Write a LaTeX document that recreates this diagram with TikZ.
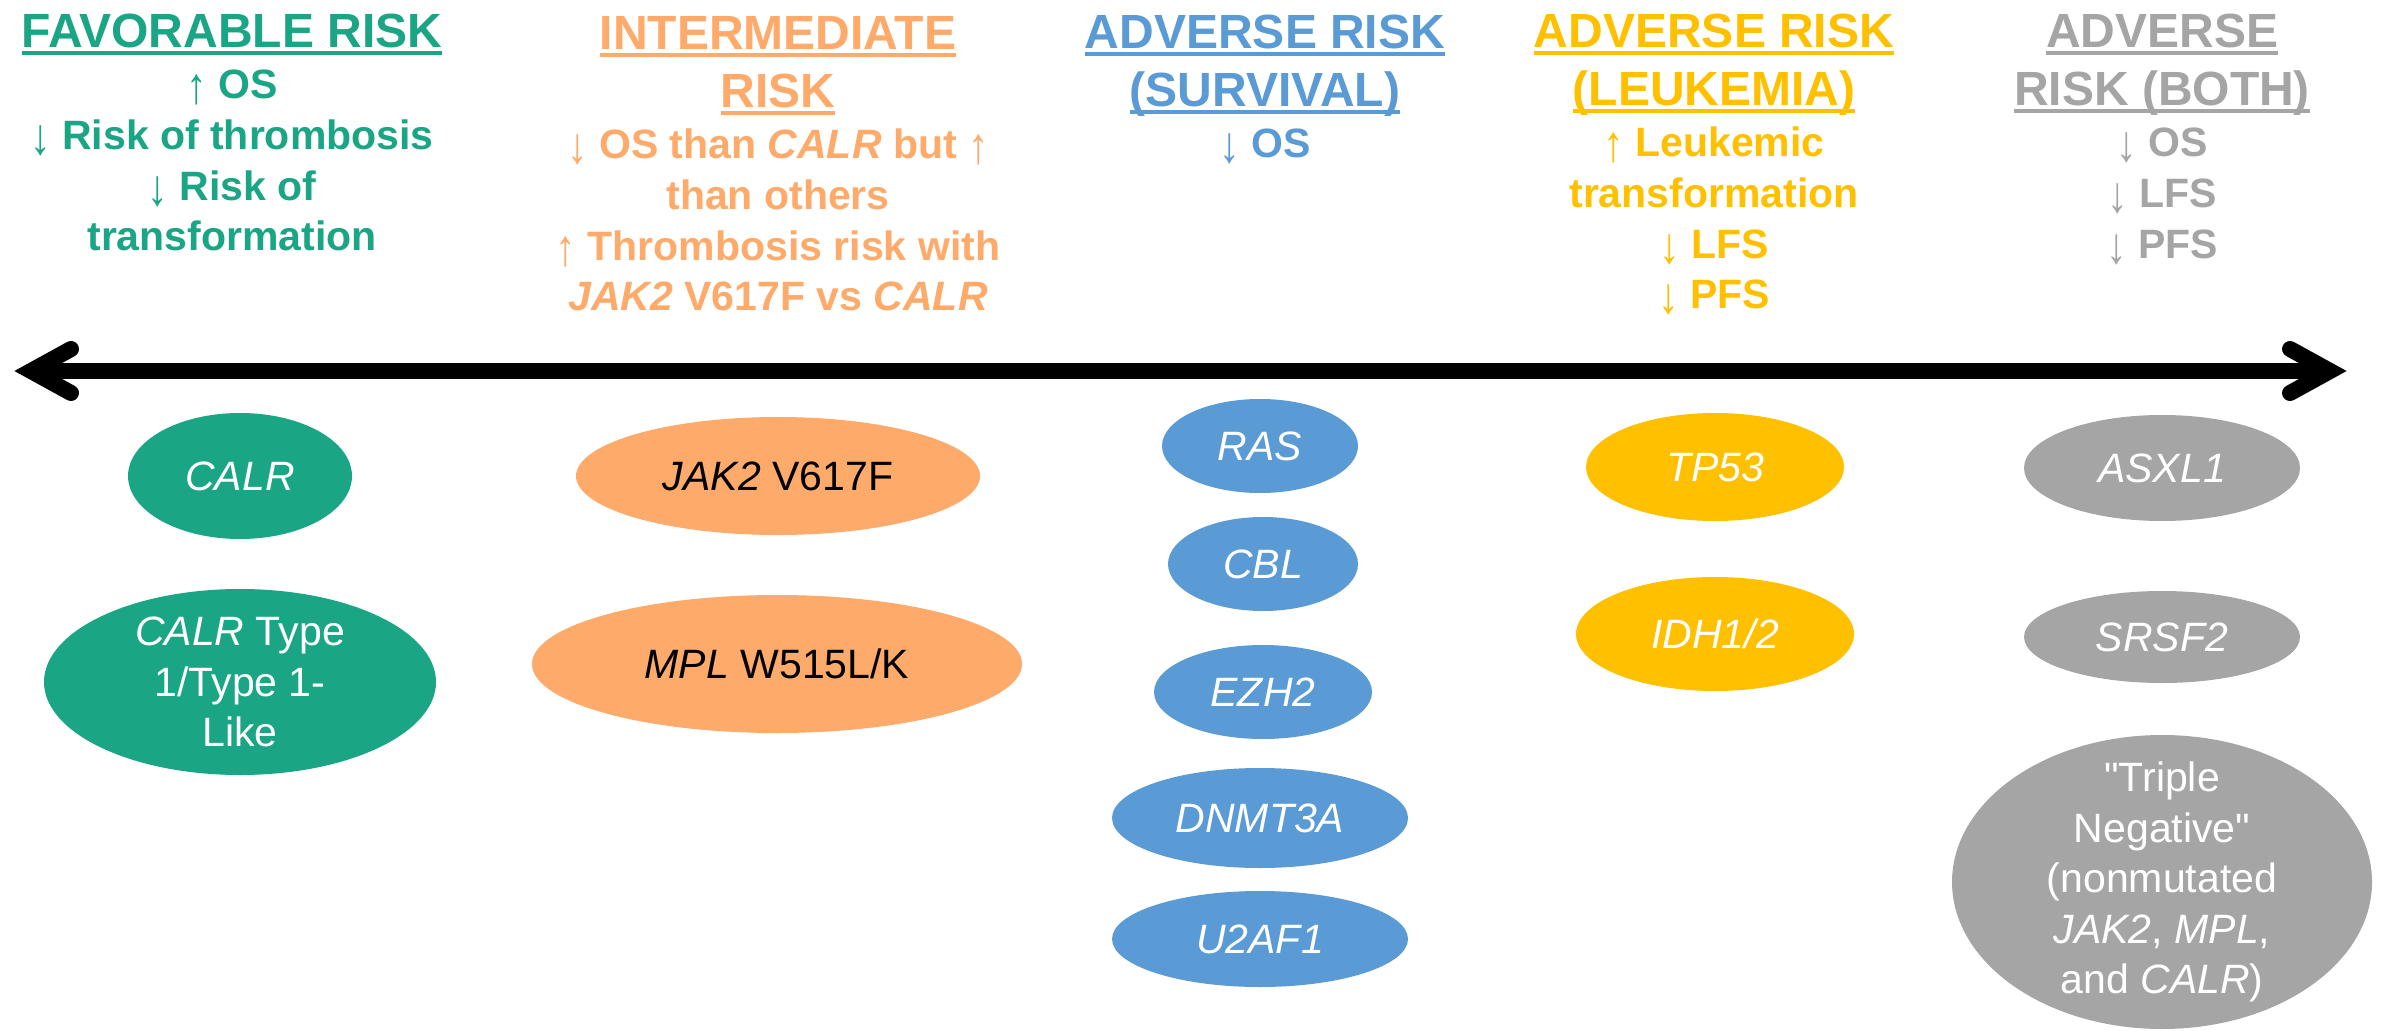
\documentclass[tikz,border=0pt]{standalone}
\usepackage{graphicx}
\usepackage{fontspec}
\setmainfont{Liberation Sans}[Ligatures=TeXOff]
\usetikzlibrary{shapes.geometric}
\definecolor{cgreen}{RGB}{26,165,132}
\definecolor{corange}{RGB}{253,170,106}
\definecolor{cblue}{RGB}{91,155,213}
\definecolor{cyellow}{RGB}{255,192,0}
\definecolor{cgray}{RGB}{165,165,165}
\newcommand\hul[1]{\setbox0\hbox{#1}\rlap{\rule[-3.6pt]{\wd0}{2pt}}\box0}
\newcommand\tlines[1]{\begin{tabular}[t]{@{}c@{}}#1\end{tabular}}
\newcommand\uarr{{\mdseries\raisebox{-0.12em}{\scalebox{1}[1.25]{↑}}}}
\newcommand\darr{{\mdseries\raisebox{-0.12em}{\scalebox{1}[1.25]{↓}}}}
\tikzset{
  hdr/.style={font=\fontsize{24pt}{29pt}\selectfont\bfseries, inner sep=0pt, anchor=base},
  bdy/.style={font=\fontsize{20.5pt}{25.3pt}\selectfont\bfseries, inner sep=0pt, anchor=base},
  gene/.style={ellipse, draw=none, inner sep=-12pt, align=center, text=white,
    font=\fontsize{20.5pt}{25.3pt}\selectfont},
  axisline/.style={line width=8pt},
  axishead/.style={line width=8pt, line cap=round, line join=miter, miter limit=10}
}
\begin{document}
\begin{tikzpicture}[x=0.5pt,y=-0.5pt]
\fill[white] (0,0) rectangle (2385,1031);
\useasboundingbox (0,0) rectangle (2385,1031);

% headers
\node[hdr, text=cgreen] (h1) at (232,48) {\tlines{\hul{FAVORABLE RISK}}};
\node[bdy, text=cgreen] (b1) at (232,99) {\tlines{\uarr{} OS\\ \darr{} Risk of thrombosis\\ \darr{} Risk of\\ transformation}};

\node[hdr, text=corange] (h2) at (778,50) {\tlines{\hul{INTERMEDIATE}\\ \hul{RISK}}};
\node[bdy, text=corange] (b2) at (778,159) {\tlines{\darr{} OS than \textit{CALR} but \uarr\\ than others\\ \uarr{} Thrombosis risk with\\ \textit{JAK2} V617F vs \textit{CALR}}};

\node[hdr, text=cblue] (h3) at (1265,49) {\tlines{\hul{ADVERSE RISK}\\ \hul{(SURVIVAL)}}};
\node[bdy, text=cblue] (b3) at (1265,158) {\tlines{\darr{} OS}};

\node[hdr, text=cyellow] (h4) at (1714,48) {\tlines{\hul{ADVERSE RISK}\\ \hul{(LEUKEMIA)}}};
\node[bdy, text=cyellow] (b4) at (1714,157) {\tlines{\uarr{} Leukemic\\ transformation\\ \darr{} LFS\\ \darr{} PFS}};

\node[hdr, text=cgray] (h5) at (2162,48) {\tlines{\hul{ADVERSE}\\ \hul{RISK (BOTH)}}};
\node[bdy, text=cgray] (b5) at (2162,157) {\tlines{\darr{} OS\\ \darr{} LFS\\ \darr{} PFS}};

% axis arrow
\coordinate (LV) at (31,371);
\coordinate (RV) at (2330,371);
\coordinate (LA) at (71,349);
\coordinate (LB) at (71,393);
\coordinate (RA) at (2290,349);
\coordinate (RB) at (2290,393);
\draw[axisline] (LV) -- (RV);
\draw[axishead] (LA) -- (LV) -- (LB);
\draw[axishead] (RA) -- (RV) -- (RB);

% ellipses (minimum width/height in pt = radius in px)
\node[gene, fill=cgreen, minimum width=224pt*0.5, minimum height=126pt*0.5] (calr) at (240,476) {\textit{CALR}};
\node[gene, fill=cgreen, minimum width=392pt*0.5, minimum height=186pt*0.5] (calrtype) at (240,682) {\textit{CALR} Type\\ 1/Type 1-\\ Like};

\node[gene, fill=corange, text=black, minimum width=404pt*0.5, minimum height=118pt*0.5] (jak2) at (778,476) {\textit{JAK2} V617F};
\node[gene, fill=corange, text=black, minimum width=490pt*0.5, minimum height=138pt*0.5] (mpl) at (777,664) {\textit{MPL} W515L/K};

\node[gene, fill=cblue, minimum width=196pt*0.5, minimum height=94pt*0.5] (ras) at (1260,446) {\textit{RAS}};
\node[gene, fill=cblue, minimum width=190pt*0.5, minimum height=94pt*0.5] (cbl) at (1263,564) {\textit{CBL}};
\node[gene, fill=cblue, minimum width=218pt*0.5, minimum height=94pt*0.5] (ezh2) at (1263,692) {\textit{EZH2}};
\node[gene, fill=cblue, minimum width=296pt*0.5, minimum height=100pt*0.5] (dnmt3a) at (1260,818) {\textit{DNMT3A}};
\node[gene, fill=cblue, minimum width=296pt*0.5, minimum height=96pt*0.5] (u2af1) at (1260,939) {\textit{U2AF1}};

\node[gene, fill=cyellow, minimum width=258pt*0.5, minimum height=108pt*0.5] (tp53) at (1715,467) {\textit{TP53}};
\node[gene, fill=cyellow, minimum width=278pt*0.5, minimum height=114pt*0.5] (idh) at (1715,634) {\textit{IDH1/2}};

\node[gene, fill=cgray, minimum width=276pt*0.5, minimum height=106pt*0.5] (asxl1) at (2162,468) {\textit{ASXL1}};
\node[gene, fill=cgray, minimum width=276pt*0.5, minimum height=92pt*0.5] (srsf2) at (2162,637) {\textit{SRSF2}};
\node[gene, fill=cgray, minimum width=420pt*0.5, minimum height=294pt*0.5] (triple) at (2162,882) {"Triple\\ Negative"\\ (nonmutated\\ \textit{JAK2}, \textit{MPL},\\ and \textit{CALR})};
\end{tikzpicture}
\end{document}
